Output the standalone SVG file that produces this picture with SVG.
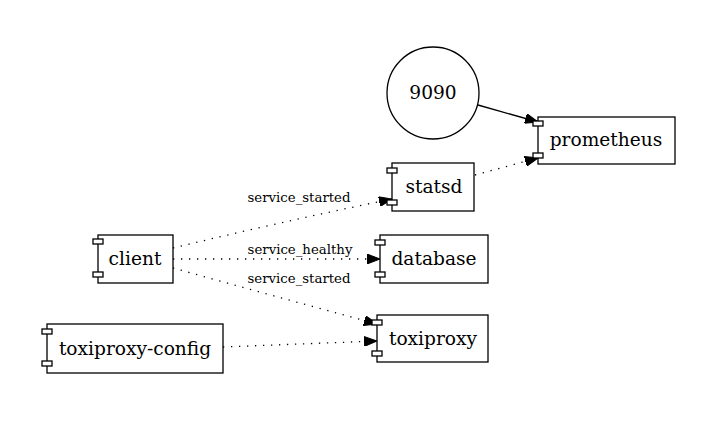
<svg xmlns="http://www.w3.org/2000/svg" width="723" height="421" viewBox="0 0 723 421">
<style>
.box{fill:#fff;stroke:#000;stroke-width:1.3}
.tab{fill:#fff;stroke:#000;stroke-width:1.3}
.lbl{font-family:"DejaVu Serif","Liberation Serif",serif;font-size:18.6px;fill:#000;text-anchor:middle}
.elbl{font-family:"DejaVu Serif","Liberation Serif",serif;font-size:13.3px;fill:#000;text-anchor:middle}
.edge{fill:none;stroke:#000;stroke-width:1.3}
.dot{stroke-dasharray:1.3,6.7}
</style>
<defs>
<marker id="arr" viewBox="0 0 13 10" refX="13" refY="5" markerWidth="13" markerHeight="10" markerUnits="userSpaceOnUse" orient="auto">
<path d="M0,0 L13,5 L0,10 z" fill="#000" stroke="#000" stroke-width="1"/>
</marker>
</defs>
<rect width="723" height="421" fill="#fff"/>
<g id="connectors">
<path class="edge" d="M478,105 L538,122" marker-end="url(#arr)"/>
<path class="edge dot" d="M475,175 L538,158" marker-end="url(#arr)"/>
<path class="edge dot" d="M173,248 Q280,222 392,199" marker-end="url(#arr)"/>
<path class="edge dot" d="M173,259 L380,259" marker-end="url(#arr)"/>
<path class="edge dot" d="M173,268 Q270,295 377,324" marker-end="url(#arr)"/>
<path class="edge dot" d="M223,347 L377,341" marker-end="url(#arr)"/>
<text class="elbl" x="299" y="202">service_started</text>
<text class="elbl" x="300" y="254">service_healthy</text>
<text class="elbl" x="299" y="283">service_started</text>
</g>
<g id="n9090">
<circle class="box" cx="433" cy="93" r="46"/>
<text class="lbl" x="433" y="99">9090</text>
</g>
<g id="prometheus">
<rect class="box" x="538" y="117" width="137" height="47"/>
<rect class="tab" x="533" y="121" width="10" height="5"/>
<rect class="tab" x="533" y="153" width="10" height="5"/>
<text class="lbl" x="606" y="146">prometheus</text>
</g>
<g id="statsd">
<rect class="box" x="392" y="163" width="82" height="48"/>
<rect class="tab" x="387" y="168" width="10" height="5"/>
<rect class="tab" x="387" y="200" width="10" height="5"/>
<text class="lbl" x="434" y="193">statsd</text>
</g>
<g id="client">
<rect class="box" x="98" y="235" width="75" height="48"/>
<rect class="tab" x="93" y="239" width="10" height="5"/>
<rect class="tab" x="93" y="272" width="10" height="5"/>
<text class="lbl" x="135" y="265">client</text>
</g>
<g id="database">
<rect class="box" x="380" y="235" width="108" height="48"/>
<rect class="tab" x="375" y="240" width="10" height="5"/>
<rect class="tab" x="375" y="272" width="10" height="5"/>
<text class="lbl" x="434" y="265">database</text>
</g>
<g id="toxiproxy">
<rect class="box" x="377" y="315" width="111" height="47"/>
<rect class="tab" x="372" y="320" width="10" height="5"/>
<rect class="tab" x="372" y="351" width="10" height="5"/>
<text class="lbl" x="433" y="345">toxiproxy</text>
</g>
<g id="toxiproxy-config">
<rect class="box" x="47" y="324" width="176" height="49"/>
<rect class="tab" x="42" y="329" width="10" height="5"/>
<rect class="tab" x="42" y="361" width="10" height="5"/>
<text class="lbl" x="135" y="355">toxiproxy-config</text>
</g>
</svg>
